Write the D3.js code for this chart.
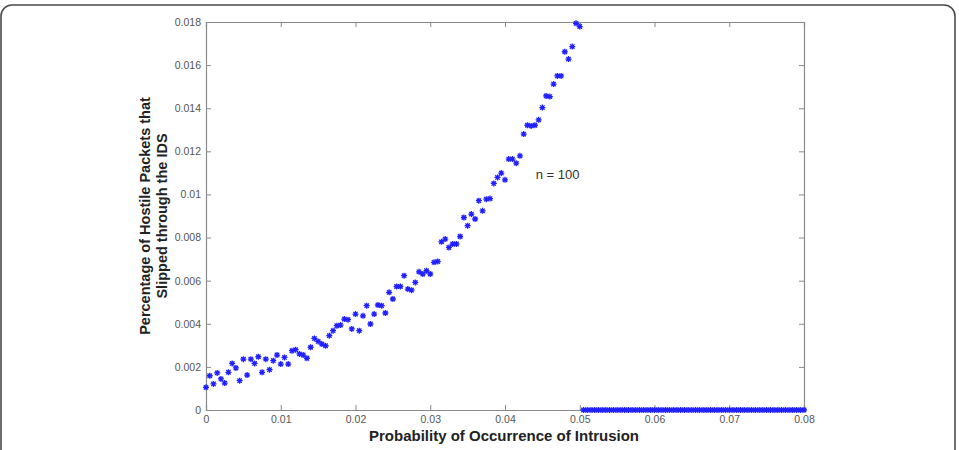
<!DOCTYPE html>
<html>
<head>
<meta charset="utf-8">
<script src="https://cdn.jsdelivr.net/npm/d3@7"></script>
<style>
  body { margin: 0; background: #fff; }
  svg { display: block; font-family: "Liberation Sans", Arial, sans-serif; }
</style>
</head>
<body>
<div id="chart"></div>
<script>
// x step between simulated probabilities
let probStep = 0.0005;

// percentage of hostile packets that slipped through
let slippedBelow = [
  0.00105, 0.00159, 0.00121, 0.00172, 0.00144, 0.00125, 0.00175, 0.00216, 0.00195, 0.00136,
  0.00236, 0.00162, 0.00236, 0.00216, 0.00247, 0.00175, 0.00236, 0.00187, 0.00229, 0.00255,
  0.00213, 0.00244, 0.00213, 0.00275, 0.00280, 0.00260, 0.00255, 0.00240, 0.00291, 0.00332,
  0.00318, 0.00306, 0.00298, 0.00345, 0.00368, 0.00391, 0.00394, 0.00422, 0.00419, 0.00376,
  0.00445, 0.00368, 0.00437, 0.00484, 0.00399, 0.00445, 0.00487, 0.00484, 0.00450, 0.00546,
  0.00515, 0.00573, 0.00573, 0.00623, 0.00561, 0.00556, 0.00592, 0.00641, 0.00631, 0.00646,
  0.00631, 0.00685, 0.00689, 0.00780, 0.00793, 0.00754, 0.00770, 0.00770, 0.00805, 0.00893,
  0.00855, 0.00909, 0.00886, 0.00971, 0.00924, 0.00978, 0.00981, 0.01051, 0.01079, 0.01099,
  0.01068, 0.01164, 0.01164, 0.01145, 0.01179, 0.01280, 0.01321, 0.01318, 0.01321, 0.01346,
  0.01403, 0.01457, 0.01454, 0.01512, 0.01550, 0.01550, 0.01662, 0.01628, 0.01686, 0.01794,
  0.01779
];
// above p = 0.05 nothing slips through
let slippedAbove = [
  0, 0, 0, 0, 0, 0, 0, 0, 0, 0,
  0, 0, 0, 0, 0, 0, 0, 0, 0, 0,
  0, 0, 0, 0, 0, 0, 0, 0, 0, 0,
  0, 0, 0, 0, 0, 0, 0, 0, 0, 0,
  0, 0, 0, 0, 0, 0, 0, 0, 0, 0,
  0, 0, 0, 0, 0, 0, 0, 0, 0, 0
];

let xTicks = [0, 0.01, 0.02, 0.03, 0.04, 0.05, 0.06, 0.07, 0.08];
let yTicks = [0, 0.002, 0.004, 0.006, 0.008, 0.01, 0.012, 0.014, 0.016, 0.018];

let width = 959,
    height = 450;

let margin = {left: 206, right: 155, top: 22, bottom: 40};

let svg = d3.select("#chart").append("svg")
    .attr("width", width)
    .attr("height", height);

// card border
svg.append("rect")
  .attr("x", 1)
  .attr("y", 5)
  .attr("width", 954)
  .attr("height", 470)
  .attr("rx", 11)
  .attr("fill", "#fff")
  .attr("stroke", "#4a4a4a")
  .attr("stroke-width", 1.6);

let x = d3.scaleLinear()
    .domain([0, 0.08])
    .range([margin.left, width - margin.right]);

let y = d3.scaleLinear()
    .domain([0, 0.018])
    .range([height - margin.bottom, margin.top]);

let data = slippedBelow.concat(slippedAbove).map((v, i) => ({p: i * probStep, v: v}));

let frameColor = "#8a8a8a";

// MATLAB style axes: ticks inside on all four sides
let axBottom = svg.append("g")
  .attr("transform", "translate(0," + y(0) + ")")
  .call(d3.axisBottom(x).tickValues(xTicks).tickSize(-5).tickPadding(6).tickFormat(d3.format("")));
let axTop = svg.append("g")
  .attr("transform", "translate(0," + y(0.018) + ")")
  .call(d3.axisTop(x).tickValues(xTicks).tickSize(-5).tickFormat(""));
let axLeft = svg.append("g")
  .attr("transform", "translate(" + x(0) + ",0)")
  .call(d3.axisLeft(y).tickValues(yTicks).tickSize(-5).tickPadding(5).tickFormat(d3.format("")));
let axRight = svg.append("g")
  .attr("transform", "translate(" + x(0.08) + ",0)")
  .call(d3.axisRight(y).tickValues(yTicks).tickSize(-5).tickFormat(""));

[axBottom, axTop, axLeft, axRight].forEach(g => {
  g.select(".domain").attr("stroke", frameColor).attr("stroke-width", 1.2);
  g.selectAll(".tick line").attr("stroke", frameColor);
  g.selectAll(".tick text")
    .attr("fill", "#555")
    .style("font-size", "10.5px");
});
// hide end ticks that sit on the frame corners
[axBottom, axTop].forEach(g => g.selectAll(".tick line").filter(d => d == 0 || d == 0.08).remove());
[axLeft, axRight].forEach(g => g.selectAll(".tick line").filter(d => d == 0 || d == 0.018).remove());

// asterisk markers
let star = "M-3,0H3M0,-3V3M-2.2,-2.2L2.2,2.2M-2.2,2.2L2.2,-2.2";

svg.append("g")
  .selectAll("path")
  .data(data)
  .enter()
  .append("path")
  .attr("d", star)
  .attr("transform", d => "translate(" + x(d.p) + "," + y(d.v) + ")")
  .attr("fill", "none")
  .attr("stroke", "#1f1fff")
  .attr("stroke-width", 1.3);

svg.append("text")
  .attr("x", x(0.0441))
  .attr("y", y(0.0107))
  .attr("fill", "#333")
  .style("font-size", "13px")
  .text("n = 100");

// axis labels
svg.append("text")
  .attr("x", 504)
  .attr("y", 441)
  .attr("text-anchor", "middle")
  .style("font-size", "15px")
  .style("font-weight", "bold")
  .attr("fill", "#222")
  .text("Probability of Occurrence of Intrusion");

let ylab = svg.append("text")
  .attr("transform", "translate(150," + ((y(0) + y(0.018)) / 2) + ") rotate(-90)")
  .attr("text-anchor", "middle")
  .style("font-size", "14.5px")
  .style("font-weight", "bold")
  .attr("fill", "#222");
ylab.append("tspan").attr("x", 0).attr("dy", 0).text("Percentage of Hostile Packets that");
ylab.append("tspan").attr("x", 0).attr("dy", 17).text("Slipped through the IDS");
</script>
</body>
</html>
